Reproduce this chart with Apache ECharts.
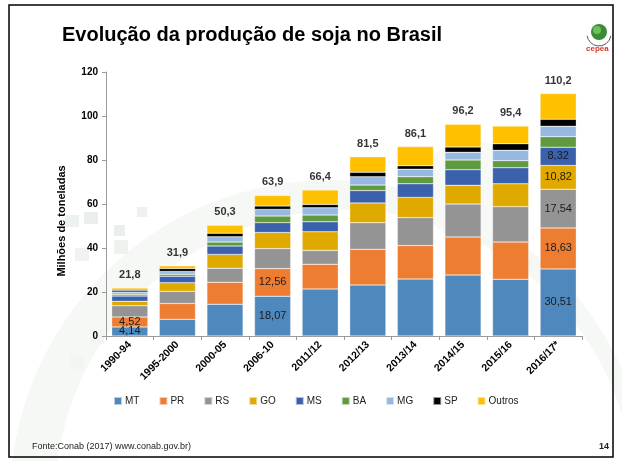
<!DOCTYPE html>
<html>
<head>
<meta charset="utf-8">
<script src="https://cdn.jsdelivr.net/npm/echarts@6/dist/echarts.min.js"></script>
<style>
  html, body { margin: 0; padding: 0; background: #fff; }
  #chart { width: 622px; height: 461px; }
</style>
</head>
<body>
<div id="chart"></div>
<script>
const categories = ['1990-94', '1995-2000', '2000-05', '2006-10', '2011/12', '2012/13', '2013/14', '2014/15', '2015/16', '2016/17*']

// milhões de toneladas, por estado
const mt = [4.14, 7.6, 14.4, 18.07, 21.4, 23.2, 25.9, 27.7, 25.8, 30.51]
const pr = [4.52, 7.2, 10.0, 12.56, 11.2, 16.2, 15.2, 17.3, 16.9, 18.63]
const rs = [5.1, 5.5, 6.4, 9.1, 6.3, 12.1, 12.7, 15.0, 16.1, 17.54]
const go = [2.0, 3.9, 6.3, 7.3, 8.5, 9.0, 9.2, 8.5, 10.4, 10.82]
const ms = [2.4, 3.0, 3.8, 4.5, 4.5, 5.6, 6.2, 7.1, 7.3, 8.32]
const ba = [0.8, 0.9, 1.8, 3.0, 3.1, 2.5, 3.2, 4.4, 3.2, 4.8]
const mg = [1.0, 1.2, 2.4, 3.0, 3.3, 3.8, 3.4, 3.5, 4.7, 4.7]
const sp = [0.8, 1.4, 1.6, 1.6, 1.5, 2.0, 1.6, 2.4, 3.0, 3.2]
const outros = [1.04, 1.2, 3.6, 4.77, 6.6, 7.1, 8.7, 10.3, 8.0, 11.68]
const totals = [21.8, 31.9, 50.3, 63.9, 66.4, 81.5, 86.1, 96.2, 95.4, 110.2]

const yTicks = [0, 20, 40, 60, 80, 100, 120]

const states = [
  { name: 'MT', data: mt, color: '#4F88BD', shown: [0, 3, 9] },
  { name: 'PR', data: pr, color: '#ED7D31', shown: [0, 3, 9] },
  { name: 'RS', data: rs, color: '#949494', shown: [9] },
  { name: 'GO', data: go, color: '#E0A900', shown: [9] },
  { name: 'MS', data: ms, color: '#3B60AC', shown: [9] },
  { name: 'BA', data: ba, color: '#5F9A3F', shown: [] },
  { name: 'MG', data: mg, color: '#97B9E1', shown: [] },
  { name: 'SP', data: sp, color: '#000000', shown: [] },
  { name: 'Outros', data: outros, color: '#FFC000', shown: [] }
]

const fmt = (v, d) => v.toFixed(d).replace('.', ',')

const chart = echarts.init(document.getElementById('chart'))

const barSeries = states.map(s => ({
  name: s.name,
  type: 'bar',
  stack: 'total',
  barCategoryGap: '24%',
  itemStyle: { color: s.color, borderColor: 'rgba(255,255,255,0.6)', borderWidth: 0.5 },
  label: {
    show: true,
    position: 'inside',
    color: '#1b1b1b',
    fontSize: 11,
    fontFamily: 'Liberation Sans',
    formatter: p => (s.shown.includes(p.dataIndex) ? fmt(p.value, 2) : '')
  },
  data: s.data
}))

const option = {
  backgroundColor: '#fff',
  animation: false,
  textStyle: { fontFamily: 'Liberation Sans' },
  graphic: [
    // fundo decorativo do slide
    { type: 'circle', shape: { cx: 330, cy: 500, r: 320 }, style: { fill: '#f5f8f5' }, z: -10 },
    { type: 'circle', shape: { cx: 345, cy: 500, r: 290 }, style: { fill: '#fff' }, z: -9 },
    { type: 'circle', shape: { cx: 470, cy: 190, r: 50 }, style: { fill: '#f7f9f7' }, z: -9 },
    { type: 'rect', shape: { x: 65, y: 215, width: 14, height: 12 }, style: { fill: '#eef2ef' }, z: -8 },
    { type: 'rect', shape: { x: 84, y: 212, width: 14, height: 12 }, style: { fill: '#ebefec' }, z: -8 },
    { type: 'rect', shape: { x: 137, y: 207, width: 10, height: 10 }, style: { fill: '#eef2ef' }, z: -8 },
    { type: 'rect', shape: { x: 114, y: 225, width: 11, height: 11 }, style: { fill: '#ebefec' }, z: -8 },
    { type: 'rect', shape: { x: 114, y: 240, width: 14, height: 14 }, style: { fill: '#eef2ef' }, z: -8 },
    { type: 'rect', shape: { x: 75, y: 248, width: 14, height: 13 }, style: { fill: '#f0f3f1' }, z: -8 },
    { type: 'rect', shape: { x: 90, y: 330, width: 14, height: 14 }, style: { fill: '#f2f5f2' }, z: -8 },
    { type: 'rect', shape: { x: 70, y: 355, width: 14, height: 14 }, style: { fill: '#f2f5f2' }, z: -8 },
    // moldura
    { type: 'rect', shape: { x: 9, y: 5, width: 604, height: 452 }, style: { fill: null, stroke: '#000', lineWidth: 1.5 }, z: 20 },
    // titulo
    { type: 'text', left: 62, top: 25, style: { text: 'Evolução da produção de soja no Brasil', fontSize: 20, fontWeight: 'bold', fill: '#000', fontFamily: 'Liberation Sans' } },
    // logo
    { type: 'circle', shape: { cx: 599, cy: 32, r: 8 }, style: { fill: '#3c8a3a' } },
    { type: 'circle', shape: { cx: 597, cy: 30, r: 4 }, style: { fill: '#6fbf5a' } },
    { type: 'arc', shape: { cx: 599, cy: 34, r: 12, startAngle: Math.PI * 0.05, endAngle: Math.PI * 0.95 }, style: { stroke: '#555', lineWidth: 1, fill: null } },
    { type: 'text', left: 586, top: 45, style: { text: 'cepea', fontSize: 8, fontWeight: 'bold', fill: '#d03a2a', fontFamily: 'Liberation Sans' } },
    // nome do eixo
    { type: 'text', x: 62, y: 221, rotation: Math.PI / 2, style: { text: 'Milhões de toneladas', fontSize: 11, fontWeight: 'bold', fill: '#000', align: 'center', verticalAlign: 'middle', fontFamily: 'Liberation Sans' } },
    // rodape
    { type: 'text', left: 32, top: 442, style: { text: 'Fonte:Conab (2017) www.conab.gov.br)', fontSize: 9, fill: '#222', fontFamily: 'Liberation Sans' } },
    { type: 'text', left: 599, top: 442, style: { text: '14', fontSize: 9, fontWeight: 'bold', fill: '#222', fontFamily: 'Liberation Sans' } }
  ],
  legend: {
    data: states.map(s => s.name),
    left: 108,
    top: 391,
    icon: 'rect',
    itemWidth: 8,
    itemHeight: 8,
    itemGap: 19,
    textStyle: { fontSize: 10, color: '#222', fontFamily: 'Liberation Sans', padding: [0, 0, 0, -2] }
  },
  grid: { left: 106, right: 40, top: 72, bottom: 125 },
  xAxis: {
    type: 'category',
    data: categories,
    axisLine: { lineStyle: { color: '#9a9a9a' } },
    axisTick: { show: true, alignWithLabel: false, length: 4, lineStyle: { color: '#9a9a9a' } },
    axisLabel: { interval: 0, rotate: 45, fontSize: 10.5, fontWeight: 'bold', color: '#000', margin: 7 }
  },
  yAxis: {
    type: 'value',
    min: yTicks[0],
    max: yTicks[yTicks.length - 1],
    interval: 20,
    splitLine: { show: false },
    axisLine: { show: true, lineStyle: { color: '#9a9a9a' } },
    axisTick: { show: true, length: 4, lineStyle: { color: '#9a9a9a' } },
    axisLabel: { fontSize: 10, fontWeight: 'bold', color: '#000', margin: 8 }
  },
  series: [
    ...barSeries,
    {
      name: 'Total',
      type: 'scatter',
      data: totals,
      symbol: 'circle',
      symbolSize: 1,
      itemStyle: { color: 'rgba(0,0,0,0)' },
      silent: true,
      z: 5,
      label: {
        show: true,
        position: 'top',
        distance: 7,
        fontSize: 11,
        fontWeight: 'bold',
        color: '#000',
        formatter: p => fmt(p.value[1] !== undefined ? p.value[1] : p.value, 1)
      }
    }
  ]
}

chart.setOption(option)
window.addEventListener('resize', () => chart.resize())
</script>
</body>
</html>
